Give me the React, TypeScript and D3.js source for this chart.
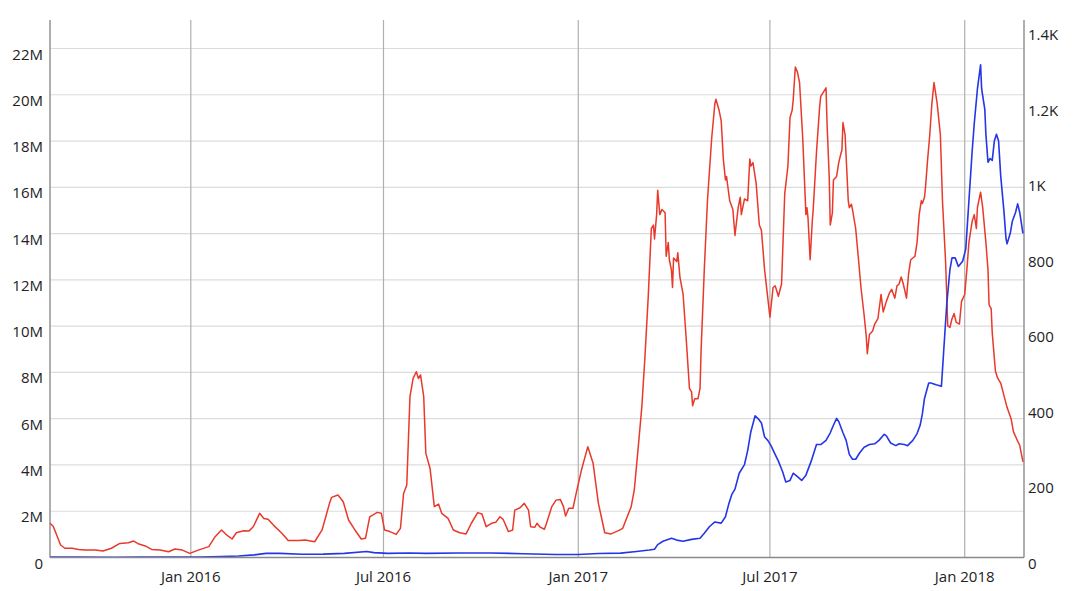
import React from "react";
import * as d3 from "d3";

// Volume series (millions), left axis
const volumeSeries: [string, number][] = [
  ["2015-08-21",1.48],["2015-08-24",1.35],["2015-08-26",1.12],["2015-08-31",0.54],["2015-09-04",0.40],["2015-09-11",0.40],["2015-09-17",0.35],["2015-09-23",0.32],["2015-10-03",0.32],["2015-10-10",0.28],["2015-10-18",0.40],["2015-10-26",0.61],["2015-11-03",0.64],["2015-11-08",0.71],["2015-11-13",0.58],["2015-11-19",0.50],["2015-11-25",0.35],["2015-12-03",0.32],["2015-12-11",0.25],["2015-12-17",0.37],["2015-12-24",0.32],["2015-12-31",0.18],
  ["2016-01-08",0.32],["2016-01-18",0.47],["2016-01-24",0.90],["2016-01-30",1.19],["2016-02-04",0.97],["2016-02-09",0.80],["2016-02-13",1.07],["2016-02-20",1.16],["2016-02-25",1.15],["2016-02-29",1.33],["2016-03-06",1.91],["2016-03-10",1.69],["2016-03-14",1.65],["2016-03-19",1.40],["2016-03-27",1.05],["2016-04-02",0.73],["2016-04-12",0.73],["2016-04-18",0.76],["2016-04-27",0.68],["2016-05-04",1.19],["2016-05-11",2.34],["2016-05-13",2.60],["2016-05-19",2.70],["2016-05-24",2.41],["2016-05-29",1.62],["2016-06-04",1.19],["2016-06-10",0.80],["2016-06-14",0.83],["2016-06-18",1.76],["2016-06-25",1.95],["2016-06-29",1.91],
  ["2016-07-02",1.19],["2016-07-07",1.12],["2016-07-13",1.00],["2016-07-17",1.26],["2016-07-20",2.77],["2016-07-23",3.13],["2016-07-26",6.95],["2016-07-29",7.74],["2016-08-01",8.03],["2016-08-03",7.74],["2016-08-05",7.89],["2016-08-08",6.95],["2016-08-10",4.50],["2016-08-14",3.85],["2016-08-18",2.20],["2016-08-22",2.31],["2016-08-25",1.91],["2016-08-31",1.69],["2016-09-05",1.19],["2016-09-11",1.07],["2016-09-17",1.02],["2016-09-22",1.48],["2016-09-28",1.94],["2016-10-02",1.88],["2016-10-06",1.33],["2016-10-11",1.48],["2016-10-15",1.52],["2016-10-19",1.76],["2016-10-22",1.65],["2016-10-27",1.12],["2016-10-31",1.19],["2016-11-02",2.05],["2016-11-07",2.15],["2016-11-11",2.34],["2016-11-15",2.05],["2016-11-17",1.33],["2016-11-21",1.31],["2016-11-23",1.48],["2016-11-26",1.31],["2016-11-30",1.22],["2016-12-02",1.48],["2016-12-07",2.20],["2016-12-11",2.48],["2016-12-15",2.51],["2016-12-18",2.20],["2016-12-20",1.79],["2016-12-23",2.13],["2016-12-27",2.13],["2016-12-30",2.77],
  ["2017-01-04",3.78],["2017-01-10",4.79],["2017-01-15",4.07],["2017-01-20",2.34],["2017-01-26",1.07],["2017-02-01",1.02],["2017-02-08",1.16],["2017-02-12",1.26],["2017-02-15",1.62],["2017-02-20",2.2],["2017-02-23",2.96],["2017-02-26",4.46],["2017-03-02",6.5],["2017-03-05",8.7],["2017-03-08",11.21],["2017-03-11",14.22],["2017-03-13",14.37],["2017-03-14",13.77],["2017-03-16",14.82],["2017-03-17",15.87],["2017-03-19",14.82],["2017-03-21",15.04],["2017-03-24",14.90],["2017-03-25",13.02],["2017-03-27",13.62],["2017-03-28",12.87],["2017-03-30",12.42],["2017-03-31",11.67],["2017-04-01",12.94],["2017-04-04",12.79],["2017-04-05",13.17],["2017-04-07",12.12],["2017-04-10",11.37],["2017-04-13",9.41],["2017-04-16",7.31],["2017-04-18",7.16],["2017-04-19",6.56],["2017-04-21",6.86],["2017-04-24",6.86],["2017-04-26",7.31],["2017-04-27",8.96],["2017-04-30",12.42],
  ["2017-05-03",15.42],["2017-05-07",18.12],["2017-05-10",19.62],["2017-05-11",19.81],["2017-05-14",19.33],["2017-05-16",18.87],["2017-05-18",17.22],["2017-05-20",16.32],["2017-05-21",16.47],["2017-05-24",15.42],["2017-05-27",15.04],["2017-05-29",13.92],["2017-06-01",15.12],["2017-06-03",15.57],["2017-06-04",14.82],["2017-06-07",15.50],["2017-06-10",15.42],["2017-06-12",17.22],["2017-06-13",16.92],["2017-06-15",17.07],["2017-06-18",16.17],["2017-06-21",14.37],["2017-06-23",14.14],["2017-06-26",12.42],["2017-06-29",11.21],["2017-07-01",10.39],["2017-07-04",11.67],["2017-07-06",11.74],["2017-07-09",11.29],["2017-07-12",11.82],["2017-07-15",15.72],["2017-07-18",16.92],["2017-07-20",19.02],["2017-07-22",19.33],["2017-07-23",19.78],["2017-07-25",21.20],["2017-07-27",20.98],["2017-07-29",20.53],
  ["2017-08-01",18.12],["2017-08-04",14.82],["2017-08-05",15.12],["2017-08-06",14.67],["2017-08-08",12.87],["2017-08-10",14.52],["2017-08-11",15.12],["2017-08-14",17.52],["2017-08-17",19.5],["2017-08-18",19.93],["2017-08-21",20.15],["2017-08-23",20.30],["2017-08-24",18.73],["2017-08-26",16.47],["2017-08-27",14.37],["2017-08-29",14.90],["2017-08-30",16.32],["2017-09-02",16.47],["2017-09-04",17.07],["2017-09-06",17.45],["2017-09-07",17.60],["2017-09-08",18.80],["2017-09-10",18.27],["2017-09-13",15.42],["2017-09-14",15.12],["2017-09-16",15.27],["2017-09-17",15.04],["2017-09-20",14.22],["2017-09-23",12.72],["2017-09-25",11.67],["2017-09-28",10.47],["2017-09-30",9.56],["2017-10-01",8.81],["2017-10-03",9.64],["2017-10-06",9.79],["2017-10-08",10.09],["2017-10-11",10.32],["2017-10-14",11.37],["2017-10-16",10.61],["2017-10-19",11.07],["2017-10-22",11.44],["2017-10-24",11.59],["2017-10-27",11.21],["2017-10-29",11.74],["2017-10-31",11.82],
  ["2017-11-02",12.12],["2017-11-04",11.82],["2017-11-07",11.21],["2017-11-09",12.27],["2017-11-11",12.87],["2017-11-15",13.02],["2017-11-17",13.62],["2017-11-19",14.82],["2017-11-21",15.42],["2017-11-22",15.3],["2017-11-24",15.57],["2017-11-25",16.02],["2017-11-27",17.22],["2017-11-29",18.27],["2017-12-01",19.62],["2017-12-03",20.53],["2017-12-06",19.62],["2017-12-09",18.27],["2017-12-11",15.42],["2017-12-14",12.72],["2017-12-16",10.01],["2017-12-18",9.94],["2017-12-20",10.32],["2017-12-22",10.54],["2017-12-24",10.16],["2017-12-27",10.09],["2017-12-29",11.07],
  ["2018-01-01",11.37],["2018-01-03",12.42],["2018-01-05",13.62],["2018-01-08",14.52],["2018-01-10",14.82],["2018-01-12",14.22],["2018-01-13",15.12],["2018-01-15",15.57],["2018-01-16",15.79],["2018-01-18",15.12],["2018-01-21",13.62],["2018-01-23",12.42],["2018-01-24",10.92],["2018-01-26",10.76],["2018-01-27",9.71],["2018-01-30",8.06],["2018-02-01",7.76],["2018-02-04",7.54],["2018-02-07",7.01],["2018-02-10",6.49],["2018-02-14",5.96],["2018-02-16",5.44],["2018-02-19",5.13],["2018-02-22",4.84],["2018-02-25",4.13],
];

// Price series, right axis
const priceSeries: [string, number][] = [
  ["2015-08-21",1.2],["2015-09-15",1.0],["2015-10-20",0.6],["2015-11-15",0.9],["2015-12-15",0.9],["2016-01-10",1.0],["2016-01-30",2.3],["2016-02-15",4],["2016-03-01",7],["2016-03-12",11],["2016-03-25",11],["2016-04-15",8.5],["2016-05-05",9],["2016-05-25",11],["2016-06-15",16],["2016-06-22",13],["2016-07-05",11],["2016-07-25",12],["2016-08-10",11],["2016-09-10",12],["2016-10-10",12],["2016-11-10",10],["2016-12-10",8],
  ["2017-01-01",8],["2017-01-20",10.5],["2017-02-10",11.5],["2017-02-25",16],["2017-03-09",20],["2017-03-14",22],["2017-03-17",34],["2017-03-22",43],["2017-03-30",51],["2017-04-04",46],["2017-04-10",43],["2017-04-18",48],["2017-04-26",51],["2017-04-30",64],["2017-05-05",82],["2017-05-10",94],["2017-05-16",91],["2017-05-20",108],["2017-05-23",140],["2017-05-26",167],["2017-05-29",181],["2017-06-02",223],["2017-06-07",246],["2017-06-10",283],["2017-06-13",333],["2017-06-17",375],["2017-06-20",367],["2017-06-23",356],["2017-06-26",319],["2017-06-29",310],["2017-07-02",296],["2017-07-05",278],["2017-07-09",255],["2017-07-13",227],["2017-07-16",200],["2017-07-20",204],["2017-07-23",223],["2017-07-27",214],["2017-07-31",204],["2017-08-04",218],["2017-08-09",255],["2017-08-14",299],["2017-08-18",299],["2017-08-23",310],["2017-08-27",330],["2017-08-30",350],["2017-09-02",368],["2017-09-04",360],["2017-09-08",330],["2017-09-11",310],["2017-09-14",273],["2017-09-17",260],["2017-09-20",260],["2017-09-24",278],["2017-09-28",292],["2017-10-03",299],["2017-10-08",301],["2017-10-12",310],["2017-10-17",326],["2017-10-19",322],["2017-10-23",303],["2017-10-28",296],["2017-10-31",301],["2017-11-05",299],["2017-11-08",296],["2017-11-13",310],["2017-11-17",328],["2017-11-20",351],["2017-11-22",380],["2017-11-24",421],["2017-11-28",462],["2017-11-30",462],["2017-12-05",457],["2017-12-10",453],["2017-12-12",540],["2017-12-15",669],["2017-12-18",761],["2017-12-20",793],["2017-12-23",793],["2017-12-26",770],["2017-12-30",784],
  ["2018-01-02",816],["2018-01-05",945],["2018-01-08",1074],["2018-01-10",1148],["2018-01-13",1240],["2018-01-16",1304],["2018-01-17",1240],["2018-01-20",1185],["2018-01-21",1120],["2018-01-23",1046],["2018-01-25",1056],["2018-01-27",1051],["2018-01-29",1102],["2018-01-31",1120],["2018-02-02",1102],["2018-02-04",1010],["2018-02-07",918],["2018-02-09",844],["2018-02-10",830],["2018-02-13",858],["2018-02-15",890],["2018-02-18",913],["2018-02-20",936],["2018-02-22",913],["2018-02-25",858],
];

const xTickDates = ["2016-01-01", "2016-07-01", "2017-01-01", "2017-07-01", "2018-01-01"];
const xTickLabels = ["Jan 2016", "Jul 2016", "Jan 2017", "Jul 2017", "Jan 2018"];
const leftTicks = [0, 2, 4, 6, 8, 10, 12, 14, 16, 18, 20, 22];
const leftTickLabels = ["0", "2M", "4M", "6M", "8M", "10M", "12M", "14M", "16M", "18M", "20M", "22M"];
const rightTicks = [0, 200, 400, 600, 800, 1000, 1200, 1400];
const rightTickLabels = ["0", "200", "400", "600", "800", "1K", "1.2K", "1.4K"];

const W = 1080;
const H = 591;
const left = 50;
const right = 1024;
const top = 20;
const bottom = 557.5;
const FONT = "'Open Sans', 'Noto Sans', sans-serif";

export default function App() {
  const parse = d3.utcParse("%Y-%m-%d");
  const x = d3
    .scaleUtc()
    .domain([parse("2015-08-21") as Date, parse("2018-02-26") as Date])
    .range([left, right]);
  const yL = d3.scaleLinear().domain([0, 22]).range([bottom, 48.5]);
  const yR = d3.scaleLinear().domain([0, 1400]).range([bottom, 28.5]);

  const volLine = d3
    .line<[string, number]>()
    .x((d) => x(parse(d[0]) as Date))
    .y((d) => yL(d[1]));
  const priceLine = d3
    .line<[string, number]>()
    .x((d) => x(parse(d[0]) as Date))
    .y((d) => yR(d[1]));

  return (
    <svg
      width={W}
      height={H}
      style={{ position: "absolute", left: 0, top: 0, background: "#fff" }}
    >
      <rect x={0} y={0} width={W} height={H} fill="#fff" />
      {leftTicks.map((t) => (
        <line key={"h" + t} x1={left} x2={right} y1={yL(t)} y2={yL(t)} stroke="#dcdcdc" strokeWidth={1.2} />
      ))}
      {xTickDates.map((d) => (
        <line
          key={"v" + d}
          x1={x(parse(d) as Date)}
          x2={x(parse(d) as Date)}
          y1={top}
          y2={bottom}
          stroke="#b0b0b0"
          strokeWidth={1.2}
        />
      ))}
      <line x1={left} x2={left} y1={top} y2={bottom} stroke="#9a9a9a" strokeWidth={1.6} />
      <line x1={right} x2={right} y1={top} y2={bottom} stroke="#9a9a9a" strokeWidth={1.6} />

      <path d={volLine(volumeSeries) || ""} fill="none" stroke="#e8392b" strokeWidth={1.5} strokeLinejoin="round" />
      <path d={priceLine(priceSeries) || ""} fill="none" stroke="#2436e6" strokeWidth={1.6} strokeLinejoin="round" />

      <line x1={left} x2={right} y1={bottom} y2={bottom} stroke="#8a8a8a" strokeWidth={1.6} />

      {leftTicks.map((t, i) => (
        <text key={"l" + t} x={43} y={yL(t) + 11} textAnchor="end" fontFamily={FONT} fontSize={15} fill="#222">
          {leftTickLabels[i]}
        </text>
      ))}
      {rightTicks.map((t, i) => (
        <text key={"r" + t} x={1028} y={yR(t) + 11.5} textAnchor="start" fontFamily={FONT} fontSize={15} fill="#222">
          {rightTickLabels[i]}
        </text>
      ))}
      {xTickDates.map((d, i) => (
        <text
          key={"x" + d}
          x={x(parse(d) as Date)}
          y={582}
          textAnchor="middle"
          fontFamily={FONT}
          fontSize={15}
          fill="#222"
        >
          {xTickLabels[i]}
        </text>
      ))}
    </svg>
  );
}
